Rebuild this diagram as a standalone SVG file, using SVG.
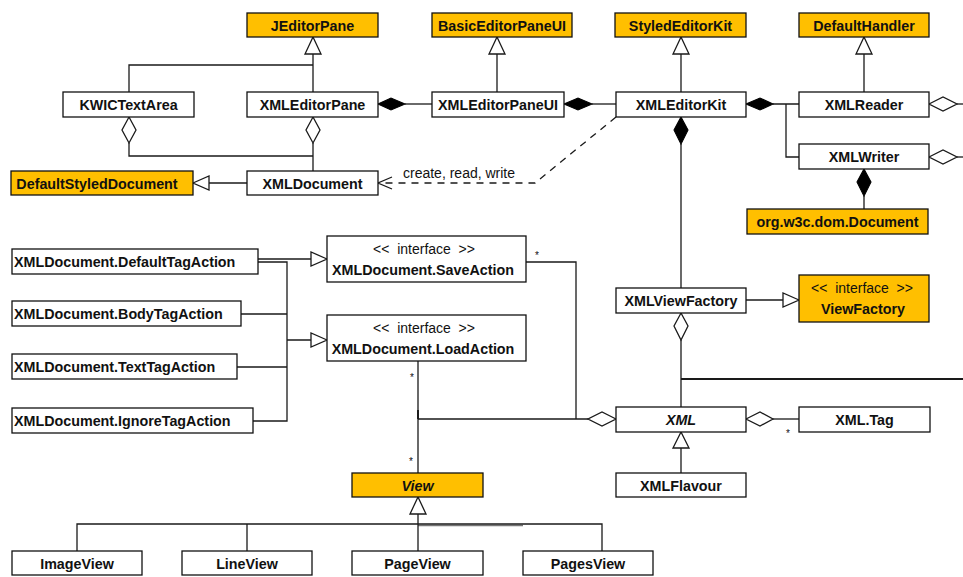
<svg xmlns="http://www.w3.org/2000/svg" width="963" height="577" viewBox="0 0 963 577">
  <style>
    .box { fill: #ffffff; stroke: #111; stroke-width: 1.3; }
    .lib { fill: #ffbf00; stroke: #111; stroke-width: 1.3; }
    .t { font-family: "Liberation Sans", Arial, Helvetica, sans-serif; font-size: 14.3px; font-weight: bold; fill: #111; text-anchor: middle; }
    .tl { text-anchor: start; }
    .it { font-style: italic; }
    .st { font-family: "Liberation Sans", Arial, Helvetica, sans-serif; font-size: 14px; font-weight: normal; fill: #111; text-anchor: middle; }
    .lbl { font-family: "Liberation Sans", Arial, Helvetica, sans-serif; font-size: 14px; fill: #111; }
    .mul { font-family: "Liberation Sans", Arial, Helvetica, sans-serif; font-size: 10px; fill: #111; text-anchor: middle; }
    .ln { fill: none; stroke: #1a1a1a; stroke-width: 1.3; }
    .thick { stroke-width: 1.9; }
    .dash { fill: none; stroke: #1a1a1a; stroke-width: 1.3; stroke-dasharray: 7 6; }
    .gen { fill: #ffffff; stroke: #1a1a1a; stroke-width: 1.3; stroke-linejoin: miter; }
    .agg { fill: #ffffff; stroke: #1a1a1a; stroke-width: 1.3; }
    .comp { fill: #000000; stroke: #000000; stroke-width: 1.1; }
  </style>

  <!-- connectors -->
  <g id="connectors">
    <!-- generalizations -->
    <path class="ln" d="M313,54 V92 M129,92 V65 H313"/>
    <polygon class="gen" points="313,37 305,54 321,54"/>
    <path class="ln" d="M497,54 V92"/>
    <polygon class="gen" points="497,37 489,54 505,54"/>
    <path class="ln" d="M681,54 V92"/>
    <polygon class="gen" points="681,37 673,54 689,54"/>
    <path class="ln" d="M864,54 V92"/>
    <polygon class="gen" points="864,37 856,54 872,54"/>
    <path class="ln" d="M209,183 H247"/>
    <polygon class="gen" points="193,183 209,176 209,190"/>

    <!-- tag actions realise save / load actions -->
    <path class="ln" d="M258,259 H311"/>
    <polygon class="gen" points="327,259 311,252 311,266"/>
    <path class="ln" d="M258,262 H287 V421 H253 M241,314 H287 M237,367 H287 M287,340 H311"/>
    <polygon class="gen" points="327,340 311,333 311,347"/>

    <path class="ln" d="M746,300 H783"/>
    <polygon class="gen" points="799,300 783,293 783,307"/>
    <path class="ln" d="M681,448 V473"/>
    <polygon class="gen" points="681,432 673,448 689,448"/>

    <path class="ln" d="M418,514 V551 M77,551 V524 H602 V551 M247,524 V551"/>
    <path class="ln" d="M418,525.5 H523" stroke-opacity="0.6"/>
    <polygon class="gen" points="418,497 410,514 426,514"/>

    <!-- aggregations -->
    <path class="ln" d="M129,143 V156 H313"/>
    <polygon class="agg" points="129,117 136,130 129,143 122,130"/>
    <path class="ln" d="M313,143 V171"/>
    <polygon class="agg" points="313,117 320,130 313,143 306,130"/>
    <path class="ln" d="M957,104 H963"/>
    <polygon class="agg" points="929,104 943,97 957,104 943,111"/>
    <path class="ln" d="M957,157 H963"/>
    <polygon class="agg" points="929,157 943,150 957,157 943,164"/>
    <path class="ln" d="M526,262 H576 V419 M418,419 H588"/>
    <path class="ln thick" d="M418,410 V419"/>
    <polygon class="agg" points="616,419 602,412 588,419 602,426"/>
    <path class="ln" d="M773,419 H799"/>
    <polygon class="agg" points="746,419 760,412 773,419 760,426"/>
    <path class="ln" d="M681,340 V407"/>
    <path class="ln thick" d="M681,379 H963"/>
    <polygon class="agg" points="681,313 688,326 681,340 674,326"/>
    <path class="ln" d="M418,361 V473"/>

    <!-- compositions -->
    <path class="ln" d="M405,104 H432"/>
    <polygon class="comp" points="378,104 391,98 405,104 391,110"/>
    <path class="ln" d="M592,104 H616"/>
    <polygon class="comp" points="564,104 578,98 592,104 578,110"/>
    <path class="ln" d="M773,104 H799 M786,104 V157 H799"/>
    <polygon class="comp" points="746,104 760,98 773,104 760,110"/>
    <path class="ln" d="M681,144 V288"/>
    <polygon class="comp" points="681,117 688,130 681,144 674,130"/>
    <path class="ln" d="M864,196 V209"/>
    <polygon class="comp" points="864,169 871,182 864,196 857,182"/>

    <!-- dependency -->
    <path class="dash" d="M616,117 L535,183 H380"/>
    <path class="ln" d="M392,177 L378,183 L392,189"/>
    <text class="lbl" x="403" y="178">create, read, write</text>

    <!-- multiplicities -->
    <text class="mul" x="537" y="259">*</text>
    <text class="mul" x="412" y="381">*</text>
    <text class="mul" x="411" y="465">*</text>
    <text class="mul" x="788" y="437">*</text>
  </g>

  <!-- top row -->
  <g id="JEditorPane"><rect class="lib" x="247" y="13" width="131" height="24"/><text class="t" x="312.5" y="30.5">JEditorPane</text></g>
  <g id="BasicEditorPaneUI"><rect class="lib" x="432" y="13" width="140" height="24"/><text class="t" x="502" y="30.5">BasicEditorPaneUI</text></g>
  <g id="StyledEditorKit"><rect class="lib" x="615" y="13" width="131" height="24"/><text class="t" x="680.5" y="30.5">StyledEditorKit</text></g>
  <g id="DefaultHandler"><rect class="lib" x="799" y="13" width="130" height="24"/><text class="t" x="864" y="30.5">DefaultHandler</text></g>

  <g id="KWICTextArea"><rect class="box" x="63" y="92" width="131" height="25"/><text class="t" x="128.5" y="109.5">KWICTextArea</text></g>
  <g id="XMLEditorPane"><rect class="box" x="247" y="92" width="131" height="25"/><text class="t" x="312.5" y="109.5">XMLEditorPane</text></g>
  <g id="XMLEditorPaneUI"><rect class="box" x="432" y="92" width="132" height="25"/><text class="t" x="498" y="109.5">XMLEditorPaneUI</text></g>
  <g id="XMLEditorKit"><rect class="box" x="616" y="92" width="130" height="25"/><text class="t" x="681" y="109.5">XMLEditorKit</text></g>
  <g id="XMLReader"><rect class="box" x="799" y="92" width="130" height="25"/><text class="t" x="864" y="109.5">XMLReader</text></g>
  <g id="XMLWriter"><rect class="box" x="799" y="144" width="130" height="25"/><text class="t" x="864" y="161.5">XMLWriter</text></g>

  <g id="DefaultStyledDocument"><rect class="lib" x="11" y="171" width="182" height="24"/><text class="t" x="97" y="188.5">DefaultStyledDocument</text></g>
  <g id="XMLDocument"><rect class="box" x="247" y="171" width="131" height="24"/><text class="t" x="312.5" y="188.5">XMLDocument</text></g>
  <g id="org.w3c.dom.Document"><rect class="lib" x="747" y="209" width="181" height="25"/><text class="t" x="837.5" y="226.5">org.w3c.dom.Document</text></g>

  <!-- tag actions -->
  <g id="DefaultTagAction"><rect class="box" x="12" y="249" width="246" height="25"/><text class="t tl" x="14" y="266.5">XMLDocument.DefaultTagAction</text></g>
  <g id="BodyTagAction"><rect class="box" x="12" y="301" width="229" height="25"/><text class="t tl" x="14" y="318.5">XMLDocument.BodyTagAction</text></g>
  <g id="TextTagAction"><rect class="box" x="12" y="354" width="225" height="25"/><text class="t tl" x="14" y="371.5">XMLDocument.TextTagAction</text></g>
  <g id="IgnoreTagAction"><rect class="box" x="12" y="408" width="241" height="25"/><text class="t tl" x="14" y="425.5">XMLDocument.IgnoreTagAction</text></g>

  <g id="SaveAction"><rect class="box" x="327" y="236" width="199" height="46"/>
    <text class="st" x="424" y="254" xml:space="preserve">&lt;&lt;  interface  &gt;&gt;</text>
    <text class="t" x="423" y="275">XMLDocument.SaveAction</text></g>
  <g id="LoadAction"><rect class="box" x="327" y="315" width="199" height="46"/>
    <text class="st" x="424" y="333" xml:space="preserve">&lt;&lt;  interface  &gt;&gt;</text>
    <text class="t" x="423" y="354">XMLDocument.LoadAction</text></g>

  <g id="XMLViewFactory"><rect class="box" x="616" y="288" width="130" height="25"/><text class="t" x="681" y="305.5">XMLViewFactory</text></g>
  <g id="ViewFactory"><rect class="lib" x="799" y="275" width="130" height="47"/>
    <text class="st" x="862" y="293" xml:space="preserve">&lt;&lt;  interface  &gt;&gt;</text>
    <text class="t" x="863" y="314">ViewFactory</text></g>

  <g id="XML"><rect class="box" x="616" y="407" width="130" height="25"/><text class="t it" x="681" y="424.5">XML</text></g>
  <g id="XML.Tag"><rect class="box" x="799" y="407" width="131" height="25"/><text class="t" x="864.5" y="424.5">XML.Tag</text></g>
  <g id="XMLFlavour"><rect class="box" x="616" y="473" width="130" height="24"/><text class="t" x="681" y="490.5">XMLFlavour</text></g>

  <!-- views -->
  <g id="View"><rect class="lib" x="352" y="473" width="131" height="24"/><text class="t it" x="417.5" y="490.5">View</text></g>
  <g id="ImageView"><rect class="box" x="12" y="551" width="130" height="24"/><text class="t" x="77" y="568.5">ImageView</text></g>
  <g id="LineView"><rect class="box" x="182" y="551" width="130" height="24"/><text class="t" x="247" y="568.5">LineView</text></g>
  <g id="PageView"><rect class="box" x="352" y="551" width="131" height="24"/><text class="t" x="417.5" y="568.5">PageView</text></g>
  <g id="PagesView"><rect class="box" x="523" y="551" width="130" height="24"/><text class="t" x="588" y="568.5">PagesView</text></g>
</svg>
